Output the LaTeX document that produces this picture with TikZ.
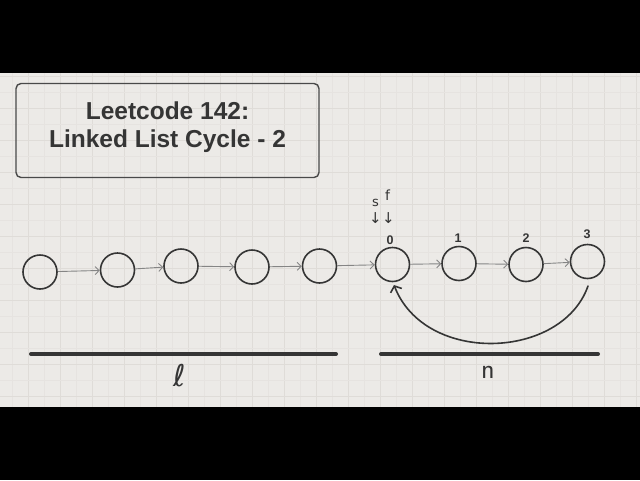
\documentclass[tikz,border=0pt]{standalone}
\usepackage{fontspec}
\setmainfont{Liberation Sans}
\newfontfamily\dejavu{DejaVu Sans}
\usetikzlibrary{arrows.meta}
\definecolor{bgc}{HTML}{ECEAE7}
\definecolor{gridmaj}{HTML}{DFDCD8}
\definecolor{gridmin}{HTML}{E6E3E0}
\definecolor{ink}{HTML}{353535}
\definecolor{linkc}{HTML}{858585}
\tikzset{
  listnode/.style={circle, draw=ink, line width=1.6pt, minimum size=34pt, inner sep=0pt},
  link/.style={draw=linkc, line width=0.9pt, -{Straight Barb[length=4pt,width=8pt]}},
  idx/.style={font=\bfseries\fontsize{12.5}{12.5}\selectfont, text=ink, inner sep=0pt},
  hand/.style={text=ink, inner sep=0pt},
  bar/.style={draw=ink, line width=4pt, line cap=round},
}
\begin{document}
\begin{tikzpicture}[x=1pt,y=-1pt]
\useasboundingbox (0,0) rectangle (640,480);
\fill[black] (0,0) rectangle (640,480);
\fill[bgc] (0,73) rectangle (640,407);
\begin{scope}
\clip (0,73) rectangle (640,407);
\foreach \k in {0,...,20} {
  \draw[gridmin, line width=0.6pt] ({12+32*\k},73) -- ({12+32*\k},407);
  \draw[gridmaj, line width=0.8pt] ({28+32*\k},73) -- ({28+32*\k},407);
}
\foreach \k in {0,...,14} {
  \draw[gridmin, line width=0.6pt] (0,{60+32*\k}) -- (640,{60+32*\k});
  \draw[gridmaj, line width=0.8pt] (0,{76+32*\k}) -- (640,{76+32*\k});
}
\end{scope}

% title box
\node[draw=ink!90, line width=1.4pt, rounded corners=5pt, minimum width=303pt, minimum height=94pt, inner sep=0pt] (title) at (167.5,130.5) {};
\node[font=\bfseries\fontsize{24.5}{28.5}\selectfont, text=ink, align=center, inner sep=0pt] (titletext) at (167.5,127) {Leetcode 142:\\Linked List Cycle - 2};

% list nodes
\node[listnode] (c1) at (40,272) {};
\node[listnode] (c2) at (117.5,270) {};
\node[listnode] (c3) at (181,266) {};
\node[listnode] (c4) at (252,267) {};
\node[listnode] (c5) at (319.5,266) {};
\node[listnode] (c6) at (392.5,264.5) {};
\node[listnode] (c7) at (459,263.5) {};
\node[listnode] (c8) at (526,264.5) {};
\node[listnode] (c9) at (587.5,261.5) {};

\draw[link] (c1) -- (c2);
\draw[link] (c2) -- (c3);
\draw[link] (c3) -- (c4);
\draw[link] (c4) -- (c5);
\draw[link] (c5) -- (c6);
\draw[link] (c6) -- (c7);
\draw[link] (c7) -- (c8);
\draw[link] (c8) -- (c9);

% indices
\node[idx] (l0) at (390,240) {0};
\node[idx] (l1) at (458,238) {1};
\node[idx] (l2) at (526,238) {2};
\node[idx] (l3) at (587,234) {3};

% pointers
\node[hand, font=\dejavu\fontsize{13}{13}\selectfont] (s) at (375.5,203) {s};
\node[hand, font=\dejavu\fontsize{14}{14}\selectfont] (f) at (387.5,195) {f};
\node[hand, font=\dejavu\fontsize{15}{15}\selectfont] (sa) at (375.5,218.5) {↓};
\node[hand, font=\dejavu\fontsize{15}{15}\selectfont] (fa) at (388.5,218.5) {↓};

% cycle back arrow
\coordinate (cs) at (588,286);
\coordinate (ce) at (394,285);
\draw[draw=ink, line width=1.6pt, line cap=round, -{Straight Barb[length=5pt,width=12pt]}]
  (cs) .. controls (562,360) and (425,365) .. (ce);

% bars
\coordinate (b1a) at (31,354);
\coordinate (b1b) at (336,354);
\coordinate (b2a) at (381,354);
\coordinate (b2b) at (598,354);
\draw[bar] (b1a) -- (b1b);
\draw[bar] (b2a) -- (b2b);

\node[hand, font=\dejavu\fontsize{30}{30}\selectfont] (ell) at (180,376) {ℓ};
\node[hand, font=\sffamily\fontsize{28}{28}\selectfont] (en) at (488,372) {n};
\end{tikzpicture}
\end{document}
